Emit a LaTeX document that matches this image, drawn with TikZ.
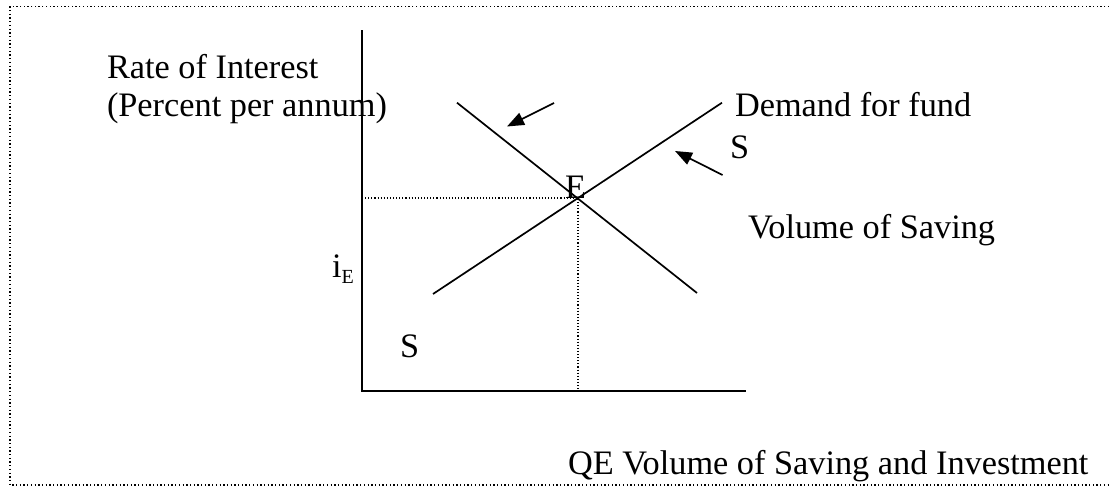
\documentclass[tikz,border=0pt]{standalone}
\usepackage{fontspec}
\setmainfont{Liberation Serif}
\usetikzlibrary{arrows.meta}
\begin{document}
\begin{tikzpicture}[x=1pt,y=-1pt,
  lbl/.style={anchor=base west,inner sep=0pt,outer sep=0pt,font=\fontsize{34.3}{41}\selectfont},
  axisline/.style={line width=2pt},
  curve/.style={line width=1.7pt},
  guide/.style={line width=1.1pt,dash pattern=on 1.1pt off 2pt},
  frame/.style={line width=1.3pt,dash pattern=on 1.3pt off 2.4pt},
  shiftarrow/.style={line width=1.7pt,-{Triangle[length=17pt,width=13pt]}}]
\useasboundingbox (0,0) rectangle (1109,487);
% frame
\draw[frame] (1109,6.5) -- (10,6.5) -- (10,485) -- (1109,485);
% axes
\coordinate (ytop) at (362,30.5);
\coordinate (orig) at (362,390.5);
\coordinate (xend) at (746,390.5);
\draw[axisline] (ytop) -- (orig) -- (xend);
% curves
\coordinate (dtop) at (457,102.7);
\coordinate (dbot) at (697,293);
\coordinate (sbot) at (433,294);
\coordinate (stop) at (722,102.7);
\coordinate (eq) at (578,198);
\draw[curve] (dtop) -- (dbot);
\draw[curve] (sbot) -- (stop);
% guides
\coordinate (yE) at (362,198);
\coordinate (xE) at (578,390);
\draw[guide] (yE) -- (eq) -- (xE);
% arrows
\coordinate (a1s) at (554,103);
\coordinate (a1e) at (507,126.5);
\coordinate (a2s) at (722.5,175);
\coordinate (a2e) at (675,151);
\draw[shiftarrow] (a1s) -- (a1e);
\draw[shiftarrow] (a2s) -- (a2e);
% labels
\node[lbl] (rate) at (107,78) {Rate of Interest};
\node[lbl] (pct) at (107,116) {(Percent per annum)};
\node[lbl] (dem) at (735,117) {Demand for fund};
\node[lbl] (sright) at (730,158) {S};
\node[lbl] (elbl) at (565,198) {E};
\node[lbl] (vos) at (748,238) {Volume of Saving};
\node[lbl] (ie) at (332,277) {i\raisebox{-6pt}{\fontsize{20}{24}\selectfont E}};
\node[lbl] (sleft) at (400,357) {S};
\node[lbl] (qe) at (568,474) {QE Volume of Saving and Investment};
\end{tikzpicture}
\end{document}
